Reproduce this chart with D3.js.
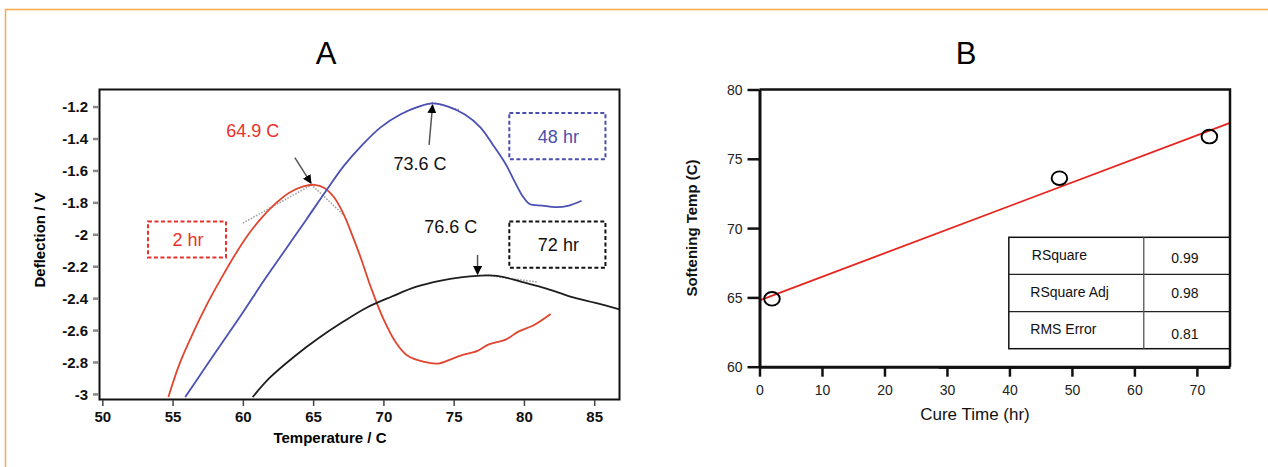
<!DOCTYPE html>
<html>
<head>
<meta charset="utf-8">
<script src="https://cdn.jsdelivr.net/npm/d3@7.9.0/dist/d3.min.js"></script>
<style>
  body { margin: 0; background: #fff; }
  svg { display: block; font-family: "Liberation Sans", Arial, sans-serif; }
</style>
</head>
<body>
<svg id="chart" width="1268" height="467"></svg>
<script>
// ---- panel A: deflection curves (temperature C, deflection V)
const curve2hr = [
  [54.7, -3.02], [55.5, -2.81], [56.5, -2.61], [57.5, -2.43], [58.5, -2.27],
  [59.5, -2.12], [60.4, -2.00], [61.3, -1.90], [62.3, -1.81], [63.3, -1.74],
  [64.3, -1.70], [65.1, -1.69], [65.8, -1.71], [66.5, -1.77], [67.2, -1.88],
  [67.8, -2.01], [68.4, -2.15], [69.1, -2.33], [70.0, -2.53], [70.9, -2.68],
  [71.7, -2.76], [72.9, -2.80], [73.9, -2.81], [74.6, -2.79], [75.5, -2.76],
  [76.7, -2.73], [77.5, -2.69], [78.7, -2.66], [79.6, -2.61], [80.7, -2.57],
  [81.9, -2.50]
];
const curve48hr = [
  [55.9, -3.02], [57.2, -2.85], [58.6, -2.67], [60.0, -2.49], [61.5, -2.29],
  [63.0, -2.10], [64.5, -1.91], [65.9, -1.73], [67.2, -1.57], [68.5, -1.44],
  [69.8, -1.33], [71.2, -1.25], [72.5, -1.20], [73.5, -1.18], [74.6, -1.20],
  [75.8, -1.25], [76.9, -1.33], [77.8, -1.44], [78.7, -1.56], [79.4, -1.68],
  [79.9, -1.76], [80.4, -1.81], [81.3, -1.82], [82.3, -1.83], [83.2, -1.82],
  [84.1, -1.79]
];
const curve72hr = [
  [60.7, -3.02], [61.9, -2.90], [63.6, -2.77], [65.4, -2.65], [67.1, -2.55],
  [68.8, -2.46], [70.6, -2.39], [72.3, -2.33], [74.1, -2.29], [75.5, -2.27],
  [76.7, -2.26], [78.1, -2.26], [79.9, -2.30], [81.6, -2.34], [83.3, -2.39],
  [85.1, -2.43], [86.8, -2.47]
];
const tempTicks = [50, 55, 60, 65, 70, 75, 80, 85];
const voltTicks = [-1.2, -1.4, -1.6, -1.8, -2, -2.2, -2.4, -2.6, -2.8, -3];

// tangent construction lines (grey dotted)
const tangents = [
  [[60.0, -1.93], [64.9, -1.69], [67.3, -1.89]],
  [[71.6, -1.23], [73.5, -1.175], [75.4, -1.22]],
  [[77.2, -2.255], [81.0, -2.30]]
];
// peak arrows: from -> to
const arrows = [
  { from: [63.7, -1.52], to: [64.85, -1.68] },
  { from: [73.25, -1.44], to: [73.5, -1.19] },
  { from: [76.7, -2.13], to: [76.7, -2.25] }
];
const peakLabels = [
  { text: "64.9 C", t: 60.7, v: -1.39, color: "#e8312c" },
  { text: "73.6 C", t: 72.6, v: -1.60, color: "#111" },
  { text: "76.6 C", t: 74.8, v: -1.99, color: "#111" }
];
const cureBoxes = [
  { text: "2 hr", t0: 53.25, t1: 58.8, v0: -1.92, v1: -2.145, color: "#e8312c" },
  { text: "48 hr", t0: 78.96, t1: 85.8, v0: -1.24, v1: -1.53, color: "#4a4fae" },
  { text: "72 hr", t0: 78.96, t1: 85.8, v0: -1.92, v1: -2.21, color: "#111" }
];

// ---- panel B: softening temp vs cure time
const cureHours = [2, 48, 72];
const softTemps = [64.9, 73.6, 76.6];
const hourTicks = [0, 10, 20, 30, 40, 50, 60, 70];
const softTicks = [60, 65, 70, 75, 80];
const statNames = ["RSquare", "RSquare Adj", "RMS Error"];
const statValues = ["0.99", "0.98", "0.81"];

const svg = d3.select("#chart");

// outer frame
svg.append("path")
  .attr("d", "M5.5,467 V9.5 H1268")
  .attr("fill", "none").attr("stroke", "#f5a947").attr("stroke-width", 1.5);

// ================= panel A =================
const xA = d3.scaleLinear().domain([49.8, 86.8]).range([99.5, 619.5]);
const yA = d3.scaleLinear().domain([-1.093, -3.035]).range([89.5, 399.5]);
const gA = svg.append("g");

gA.append("text").attr("x", 326).attr("y", 64).attr("text-anchor", "middle")
  .attr("font-size", 31).text("A");

const defs = svg.append("defs");
defs.append("clipPath").attr("id", "clipA")
  .append("rect").attr("x", 99.5).attr("y", 89.5).attr("width", 520).attr("height", 310);
defs.append("marker").attr("id", "head").attr("viewBox", "0 0 10 10")
  .attr("refX", 9).attr("refY", 5).attr("markerWidth", 9).attr("markerHeight", 9)
  .attr("markerUnits", "userSpaceOnUse").attr("orient", "auto")
  .append("path").attr("d", "M0,0 L10,5 L0,10 z").attr("fill", "#000");

const line = d3.line().x((d) => xA(d[0])).y((d) => yA(d[1])).curve(d3.curveCatmullRom);
const plotA = gA.append("g").attr("clip-path", "url(#clipA)");

tangents.forEach((t) => {
  plotA.append("path").attr("d", d3.line().x((d) => xA(d[0])).y((d) => yA(d[1]))(t))
    .attr("fill", "none").attr("stroke", "#a0a0a0").attr("stroke-width", 1.6)
    .attr("stroke-dasharray", "1.5,1.5");
});

[[curve2hr, "#e0452f"], [curve48hr, "#4b50b4"], [curve72hr, "#1e1e1e"]].forEach(([data, color]) => {
  plotA.append("path").attr("d", line(data))
    .attr("fill", "none").attr("stroke", color).attr("stroke-width", 1.8);
});

arrows.forEach((a) => {
  gA.append("line")
    .attr("x1", xA(a.from[0])).attr("y1", yA(a.from[1]))
    .attr("x2", xA(a.to[0])).attr("y2", yA(a.to[1]))
    .attr("stroke", "#555").attr("stroke-width", 1.5)
    .attr("marker-end", "url(#head)");
});

peakLabels.forEach((p) => {
  gA.append("text").attr("x", xA(p.t)).attr("y", yA(p.v))
    .attr("text-anchor", "middle").attr("font-size", 18).attr("fill", p.color)
    .text(p.text);
});

cureBoxes.forEach((b) => {
  gA.append("rect")
    .attr("x", xA(b.t0)).attr("y", yA(b.v0))
    .attr("width", xA(b.t1) - xA(b.t0)).attr("height", yA(b.v1) - yA(b.v0))
    .attr("fill", "none").attr("stroke", b.color).attr("stroke-width", 2)
    .attr("stroke-dasharray", "4,2.5");
  gA.append("text")
    .attr("x", (xA(b.t0) + xA(b.t1)) / 2 + 1)
    .attr("y", (yA(b.v0) + yA(b.v1)) / 2 + 6.5)
    .attr("text-anchor", "middle").attr("font-size", 18).attr("fill", b.color)
    .text(b.text);
});

// frame
gA.append("rect").attr("x", 99.5).attr("y", 89.5).attr("width", 520).attr("height", 310)
  .attr("fill", "none").attr("stroke", "#111").attr("stroke-width", 2);

// axes
const axisXA = gA.append("g").attr("transform", "translate(0,400)")
  .call(d3.axisBottom(xA).tickValues(tempTicks).tickSize(6).tickPadding(5).tickFormat(d3.format("d")));
const axisYA = gA.append("g").attr("transform", "translate(98,0)")
  .call(d3.axisLeft(yA).tickValues(voltTicks).tickSize(5).tickPadding(5).tickFormat((d) => String(d)));
[axisXA, axisYA].forEach((ax) => {
  ax.select(".domain").remove();
  ax.selectAll("text").attr("font-size", 15).attr("font-weight", "bold")
    .attr("font-family", "Liberation Sans, Arial, sans-serif").attr("fill", "#111");
});
axisXA.selectAll("line").attr("stroke", "#444").attr("stroke-width", 1.5);
axisYA.selectAll("line").attr("stroke", "#888").attr("stroke-width", 2.5);
axisYA.selectAll("text").attr("dy", "0.36em");

gA.append("text").attr("x", 330).attr("y", 443).attr("text-anchor", "middle")
  .attr("font-size", 15).attr("font-weight", "bold").text("Temperature / C");
gA.append("text").attr("transform", "translate(45,240) rotate(-90)").attr("text-anchor", "middle")
  .attr("font-size", 15).attr("font-weight", "bold").text("Deflection / V");

// ================= panel B =================
const xB = d3.scaleLinear().domain([0, 75.3]).range([759.5, 1230]);
const yB = d3.scaleLinear().domain([60, 80]).range([366.7, 89.5]);
const gB = svg.append("g");

gB.append("text").attr("x", 966).attr("y", 64).attr("text-anchor", "middle")
  .attr("font-size", 31).text("B");

// least-squares fit line
const mx = d3.mean(cureHours), my = d3.mean(softTemps);
const slope = d3.sum(cureHours, (x, i) => (x - mx) * (softTemps[i] - my)) /
  d3.sum(cureHours, (x) => (x - mx) ** 2);
const intercept = my - slope * mx;
const fitX = xB.domain();
gB.append("line")
  .attr("x1", xB(fitX[0])).attr("y1", yB(intercept + slope * fitX[0]))
  .attr("x2", xB(fitX[1])).attr("y2", yB(intercept + slope * fitX[1]))
  .attr("stroke", "#e8241f").attr("stroke-width", 1.8);

gB.selectAll("ellipse.pt").data(cureHours).join("ellipse")
  .attr("class", "pt")
  .attr("cx", (d) => xB(d)).attr("cy", (d, i) => yB(softTemps[i]))
  .attr("rx", 7.8).attr("ry", 6.8)
  .attr("fill", "none").attr("stroke", "#000").attr("stroke-width", 1.9);

// stats table
const tblX0 = xB(39.9), tblX1 = xB(75.3), tblXc = xB(61.5);
const tblY = d3.scaleLinear().domain([0, 3]).range([237.3, 348.7]);
const tbl = gB.append("g");
tbl.append("rect").attr("x", tblX0).attr("y", tblY(0))
  .attr("width", tblX1 - tblX0).attr("height", tblY(3) - tblY(0))
  .attr("fill", "#fff").attr("stroke", "#111").attr("stroke-width", 1.5);
[1, 2].forEach((r) => {
  tbl.append("line").attr("x1", tblX0).attr("x2", tblX1)
    .attr("y1", tblY(r)).attr("y2", tblY(r)).attr("stroke", "#222").attr("stroke-width", 1.3);
});
tbl.append("line").attr("x1", tblXc).attr("x2", tblXc)
  .attr("y1", tblY(0)).attr("y2", tblY(3)).attr("stroke", "#555").attr("stroke-width", 1.3);
statNames.forEach((n, i) => {
  tbl.append("text").attr("x", tblX0 + 23 - (i > 0 ? 1.5 : 0)).attr("y", tblY(i) + 23 - (i === 2 ? 1 : 0))
    .attr("font-size", 14).attr("fill", "#111").text(n);
  tbl.append("text").attr("x", (tblXc + tblX1) / 2 - 2).attr("y", tblY(i) + 26 - (i === 1 ? 2 : 0) + (i === 2 ? 1 : 0))
    .attr("text-anchor", "middle").attr("font-size", 14).attr("fill", "#111").text(statValues[i]);
});

// frame: top and right, axes thick
gB.append("path").attr("d", `M${xB(0)},${yB(80)} H${xB(75.3)} V${yB(60)}`)
  .attr("fill", "none").attr("stroke", "#111").attr("stroke-width", 2.5);
gB.append("line").attr("x1", xB(28.7)).attr("x2", xB(75.3))
  .attr("y1", yB(60) + 1.5).attr("y2", yB(60) + 1.5).attr("stroke", "#333").attr("stroke-width", 1.5);

const axisXB = gB.append("g").attr("transform", `translate(0,${yB(60)})`)
  .call(d3.axisBottom(xB).tickValues(hourTicks).tickSize(10).tickSizeOuter(0).tickPadding(6));
const axisYB = gB.append("g").attr("transform", `translate(${xB(0)},0)`)
  .call(d3.axisLeft(yB).tickValues(softTicks).tickSize(12).tickSizeOuter(0).tickPadding(5));
[axisXB, axisYB].forEach((ax) => {
  ax.select(".domain").attr("stroke", "#111").attr("stroke-width", 3);
  ax.selectAll("line").attr("stroke", "#111").attr("stroke-width", 2.5);
  ax.selectAll("text").attr("font-size", 14)
    .attr("font-family", "Liberation Sans, Arial, sans-serif").attr("fill", "#222");
});
axisXB.selectAll("text").attr("dy", "0.9em");
axisYB.selectAll("text").attr("dy", "0.36em");

gB.append("text").attr("x", 975).attr("y", 420).attr("text-anchor", "middle")
  .attr("font-size", 17).attr("fill", "#111").text("Cure Time (hr)");
gB.append("text").attr("transform", "translate(697,228) rotate(-90)").attr("text-anchor", "middle")
  .attr("font-size", 15).attr("font-weight", "bold").attr("fill", "#111").text("Softening Temp (C)");
</script>
</body>
</html>
